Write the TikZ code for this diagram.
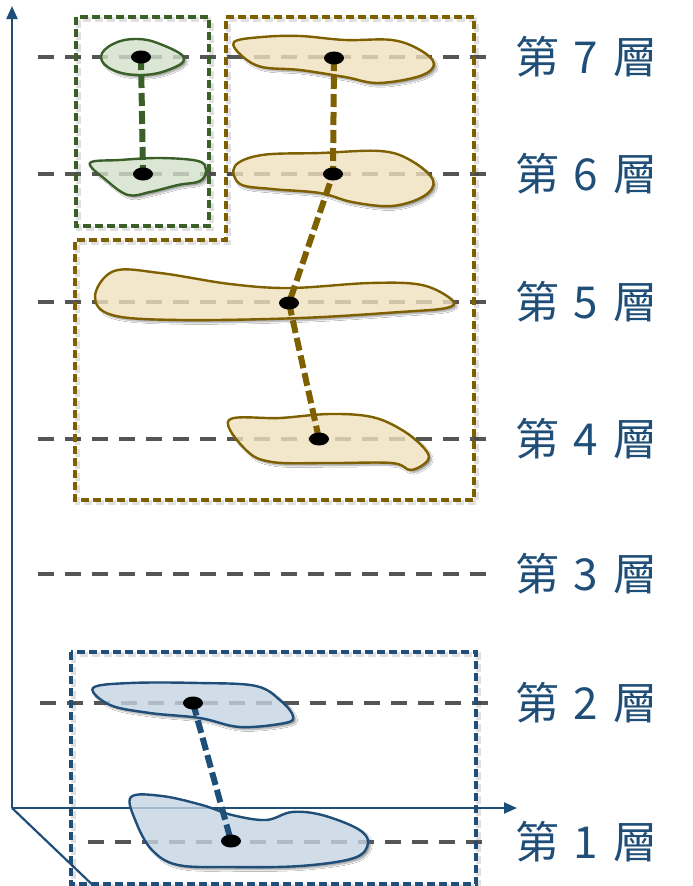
\documentclass[tikz,border=0pt]{standalone}
\usepackage{fontspec}
\newfontfamily\cjk{Noto Sans CJK TC}
\usetikzlibrary{arrows.meta,shadows.blur}
\definecolor{axisblue}{HTML}{1F4E79}
\definecolor{gstroke}{HTML}{3A5F28}
\definecolor{gfill}{HTML}{D3E2CA}
\definecolor{bstroke}{HTML}{7F6000}
\definecolor{bfill}{HTML}{EFE2BE}
\definecolor{lstroke}{HTML}{1F4E79}
\definecolor{lfill}{HTML}{C5D4E3}
\definecolor{layergray}{HTML}{555555}
\tikzset{
  layerline/.style={draw=layergray, line width=4pt, dash pattern=on 16pt off 11pt},
  groupbox/.style={line width=3.6pt, dash pattern=on 8pt off 4pt, line join=miter},
  boxshadow/.style={draw=black, draw opacity=0.12, line width=4.5pt, dash pattern=on 8pt off 4pt, xshift=2.5pt, yshift=-2.5pt},
  blobbase/.style={fill=white, blur shadow={shadow xshift=2.5pt, shadow yshift=-2.5pt, shadow blur steps=6, shadow opacity=40}},
  blobg/.style={fill=gfill, fill opacity=0.8, draw=gstroke, line width=2.4pt},
  blobb/.style={fill=bfill, fill opacity=0.8, draw=bstroke, line width=2.4pt},
  blobl/.style={fill=lfill, fill opacity=0.8, draw=lstroke, line width=2.4pt},
  link/.style={line width=6pt, dash pattern=on 13pt off 5pt},
  dotmark/.style={fill=black},
  axisline/.style={draw=axisblue, line width=2.2pt},
  lbl/.style={font=\cjk\fontsize{44}{52}\selectfont, text=axisblue, anchor=west, inner sep=0pt},
}
\begin{document}
\begin{tikzpicture}[x=1pt,y=-1pt]
\useasboundingbox (0,0) rectangle (693,886);
\fill[white] (0,0) rectangle (693,886);

% blob shadows and white bases
\path[blobbase, save path=\pGa] plot[smooth cycle, tension=0.7] coordinates {(101,57) (113,44) (136,39) (160,44) (184,58) (168,70) (140,75) (113,70)};
\path[blobbase, save path=\pGb] plot[smooth cycle, tension=0.6] coordinates {(90,163) (120,160) (160,158) (198,161) (206,170) (200,181) (178,185) (150,192) (128,195) (106,180)};
\path[blobbase, save path=\pBa] plot[smooth cycle, tension=0.6] coordinates {(234,42) (262,37) (300,36) (345,40) (392,40) (420,50) (434,64) (420,76) (378,83) (345,77) (300,70) (262,67) (242,56)};
\path[blobbase, save path=\pBb] plot[smooth cycle, tension=0.6] coordinates {(235,166) (262,155) (320,153) (380,151) (410,160) (433,180) (424,196) (392,206) (352,202) (320,193) (272,189) (240,184)};
\path[blobbase, save path=\pBc] plot[smooth cycle, tension=0.6] coordinates {(95,296) (114,271) (160,273) (230,284) (290,288) (370,283) (422,285) (452,300) (446,308) (400,312) (300,318) (180,320) (112,315)};
\path[blobbase, save path=\pBd] plot[smooth cycle, tension=0.6] coordinates {(229,420) (280,418) (330,414) (372,417) (402,430) (424,448) (428,460) (411,470) (392,463) (330,463) (272,462) (246,450)};
\path[blobbase, save path=\pLa] plot[smooth cycle, tension=0.6] coordinates {(93,688) (130,683) (200,683) (256,686) (281,701) (293,716) (285,723) (240,727) (200,718) (150,713) (110,705)};
\path[blobbase, save path=\pLb] plot[smooth cycle, tension=0.6] coordinates {(131,797) (162,796) (202,805) (232,815) (266,820) (292,812) (322,815) (358,829) (368,843) (354,858) (300,866) (230,867) (178,865) (152,850) (136,822)};

% axes
\coordinate (o) at (12,808);
\coordinate (ytop) at (12,6);
\coordinate (xend) at (517,808);
\coordinate (zend) at (100,892);
\draw[axisline, -{Triangle[length=13pt,width=11pt]}] (o) -- (ytop);
\draw[axisline, -{Triangle[length=13pt,width=11pt]}] (o) -- (xend);
\draw[axisline] (o) -- (zend);

% layer lines
\coordinate (a7) at (38,57);  \coordinate (b7) at (488,57);
\coordinate (a6) at (38,174); \coordinate (b6) at (488,174);
\coordinate (a5) at (38,302); \coordinate (b5) at (488,302);
\coordinate (a4) at (38,439); \coordinate (b4) at (488,439);
\coordinate (a3) at (38,574); \coordinate (b3) at (488,574);
\coordinate (a2) at (40,703); \coordinate (b2) at (490,703);
\coordinate (a1) at (88,842); \coordinate (b1) at (484,842);
\foreach \i in {1,...,7} {\draw[layerline] (a\i) -- (b\i);}

% group boxes
\draw[boxshadow] (76,17) rectangle (209,226);
\draw[boxshadow] (226,17) -- (474,17) -- (474,500) -- (75,500) -- (75,240) -- (226,240) -- cycle;
\draw[boxshadow] (71,652) rectangle (476,884);
\draw[groupbox, draw=gstroke] (76,17) rectangle (209,226);
\draw[groupbox, draw=bstroke] (226,17) -- (474,17) -- (474,500) -- (75,500) -- (75,240) -- (226,240) -- cycle;
\draw[groupbox, draw=lstroke] (71,652) rectangle (476,884);

% blobs
\path[use path=\pGa, blobg];
\path[use path=\pGb, blobg];
\path[use path=\pBa, blobb];
\path[use path=\pBb, blobb];
\path[use path=\pBc, blobb];
\path[use path=\pBd, blobb];
\path[use path=\pLa, blobl];
\path[use path=\pLb, blobl];

% points
\coordinate (g7) at (141,57);
\coordinate (g6) at (143,174);
\coordinate (n7) at (334,58);
\coordinate (n6) at (333,174);
\coordinate (n5) at (289,303);
\coordinate (n4) at (319,439);
\coordinate (m2) at (193,703);
\coordinate (m1) at (231,841);

% links
\draw[link, draw=gstroke] (g7) -- (g6);
\draw[link, draw=bstroke] (n7) -- (n6) -- (n5) -- (n4);
\draw[link, draw=lstroke] (m2) -- (m1);

% dots
\foreach \p in {g7,g6,n7,n6,n5,n4,m2,m1} {\fill[dotmark] (\p) ellipse [x radius=10pt, y radius=6.5pt];}

% labels
\foreach \i/\y in {7/57,6/174,5/302,4/439,3/574,2/703,1/842} {
  \node[lbl] (l\i) at (515,\y) {第\hspace{14pt}\i\hspace{16pt}層};
}
\end{tikzpicture}
\end{document}
